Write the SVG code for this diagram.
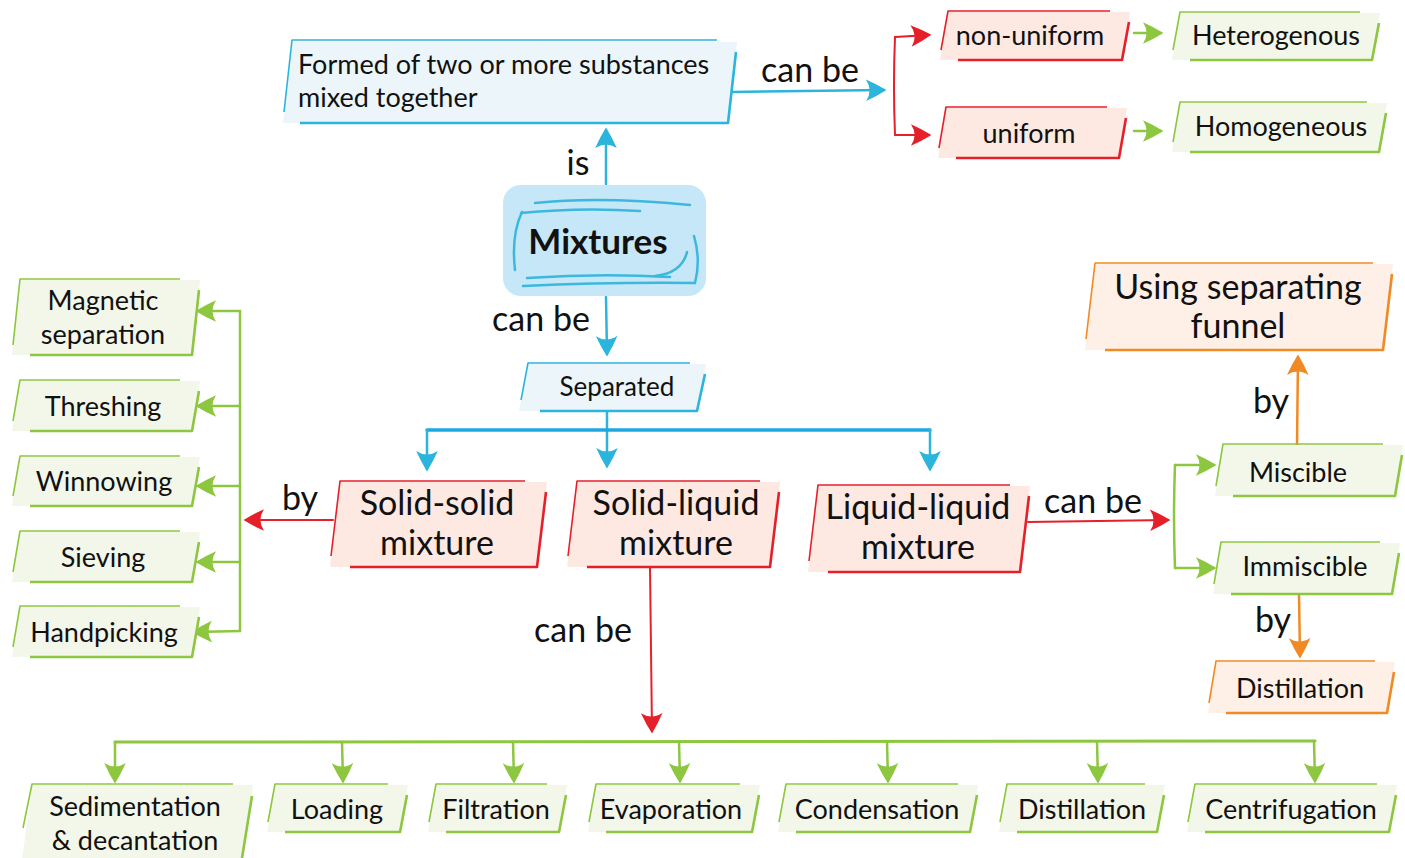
<svg xmlns="http://www.w3.org/2000/svg" width="1405" height="858" viewBox="0 0 1405 858">
<style>
text{font-family:Lato,"Open Sans","Liberation Sans",sans-serif;fill:#111;}
.t{font-size:27px;text-anchor:middle;}
.tb{font-size:34px;text-anchor:middle;}
.lbl{font-size:34px;text-anchor:middle;}
.bf{fill:#ECF6FA}.bs{stroke:#2BB5DD}
.rf{fill:#FDE9E1}.rs{stroke:#E5202A}
.gf{fill:#F3F7EA}.gs{stroke:#8DC63F}
.of{fill:#FEF0E6}.os{stroke:#F08A24}
.e1{fill:none;stroke-width:1.6;stroke-linejoin:round}
.e2{fill:none;stroke-width:2.6;stroke-linejoin:round}
.c{fill:none;stroke-linecap:round}
.cb{stroke:#2BB5DD;stroke-width:2.5}
.cr{stroke:#E5202A;stroke-width:2}
.cg{stroke:#8DC63F;stroke-width:2.5}
.co{stroke:#F08A24;stroke-width:2.5}
.deco{fill:none;stroke:#3CB8DE;stroke-width:2.5;stroke-linecap:round}
</style>
<defs>
<marker id="mb" viewBox="0 0 20 20" refX="17" refY="10" markerWidth="24" markerHeight="24" markerUnits="userSpaceOnUse" orient="auto"><path d="M2,1 Q11,5 19,10 Q11,15 2,19 Q8,10 2,1 Z" fill="#2BB5DD"/></marker>
<marker id="mr" viewBox="0 0 20 20" refX="17" refY="10" markerWidth="24" markerHeight="24" markerUnits="userSpaceOnUse" orient="auto"><path d="M2,1 Q11,5 19,10 Q11,15 2,19 Q8,10 2,1 Z" fill="#E5202A"/></marker>
<marker id="mg" viewBox="0 0 20 20" refX="17" refY="10" markerWidth="24" markerHeight="24" markerUnits="userSpaceOnUse" orient="auto"><path d="M2,1 Q11,5 19,10 Q11,15 2,19 Q8,10 2,1 Z" fill="#8DC63F"/></marker>
<marker id="mo" viewBox="0 0 20 20" refX="17" refY="10" markerWidth="24" markerHeight="24" markerUnits="userSpaceOnUse" orient="auto"><path d="M2,1 Q11,5 19,10 Q11,15 2,19 Q8,10 2,1 Z" fill="#F08A24"/></marker>
</defs>

<g id="connectors">
<path class="c cb" d="M606,184 L606,130" marker-end="url(#mb)"/>
<path class="c cb" d="M606,297 L607,354" marker-end="url(#mb)"/>
<path class="c cb" d="M732,92 L884,90" marker-end="url(#mb)"/>
<path class="c cb" d="M607,411 L607,466" marker-end="url(#mb)"/>
<path class="c" d="M427,430 L930,430" stroke="#1EA8E0" stroke-width="3.5"/>
<path class="c cb" d="M427,430 L427,469" marker-end="url(#mb)"/>
<path class="c cb" d="M930,430 L930,469" marker-end="url(#mb)"/>
<path class="c cr" d="M895,37 Q893,85 895,135" stroke-width="3"/>
<path class="c cr" d="M895,37 L929,35" marker-end="url(#mr)"/>
<path class="c cr" d="M895,135 L929,135" marker-end="url(#mr)"/>
<path class="c cg" d="M1134,33 L1161,33" marker-end="url(#mg)"/>
<path class="c cg" d="M1134,131 L1161,131" marker-end="url(#mg)"/>
<path class="c cr" d="M333,520 L246,520" marker-end="url(#mr)"/>
<path class="c cg" d="M240,311 L240,631"/>
<path class="c cg" d="M240,311 L198,311" marker-end="url(#mg)"/>
<path class="c cg" d="M240,406 L198,406" marker-end="url(#mg)"/>
<path class="c cg" d="M240,486 L198,486" marker-end="url(#mg)"/>
<path class="c cg" d="M240,562 L198,562" marker-end="url(#mg)"/>
<path class="c cg" d="M240,631 L194,632" marker-end="url(#mg)"/>
<path class="c cr" d="M650,567 L652,731" marker-end="url(#mr)"/>
<path class="c" d="M115,742 L1315,741" stroke="#8DC63F" stroke-width="3"/>
<path class="c cg" d="M115,742 L115,781" marker-end="url(#mg)"/>
<path class="c cg" d="M342,742 L343,781" marker-end="url(#mg)"/>
<path class="c cg" d="M513,742 L514,781" marker-end="url(#mg)"/>
<path class="c cg" d="M679,742 L680,781" marker-end="url(#mg)"/>
<path class="c cg" d="M887,742 L888,781" marker-end="url(#mg)"/>
<path class="c cg" d="M1097,742 L1098,781" marker-end="url(#mg)"/>
<path class="c cg" d="M1314,741 L1315,781" marker-end="url(#mg)"/>
<path class="c cr" d="M1028,522 L1168,520" marker-end="url(#mr)"/>
<path class="c cg" d="M1175,465 Q1173,516 1175,568" stroke-width="3"/>
<path class="c cg" d="M1175,465 L1214,465" marker-end="url(#mg)"/>
<path class="c cg" d="M1175,568 L1214,568" marker-end="url(#mg)"/>
<path class="c co" d="M1297,446 L1298,357" marker-end="url(#mo)"/>
<path class="c co" d="M1299,594 L1300,656" marker-end="url(#mo)"/>
<text class="lbl" x="578" y="175">is</text>
<text class="lbl" x="541" y="331">can be</text>
<text class="lbl" x="810" y="82">can be</text>
<text class="lbl" x="300" y="510">by</text>
<text class="lbl" x="583" y="642">can be</text>
<text class="lbl" x="1093" y="513">can be</text>
<text class="lbl" x="1271" y="413">by</text>
<text class="lbl" x="1273" y="632">by</text>
</g>

<g id="formed">
<polygon class="bf" points="292,42 737,42 728,123 283,123"/>
<path class="e1 bs" d="M717,40 L292,40 L284,112"/>
<path class="e2 bs" d="M300,123 L728,123 L736,52"/>
<text x="298" y="74" style="font-size:27px">Formed of two or more substances</text>
<text x="298" y="107" style="font-size:27px">mixed together</text>
</g>

<g id="mixtures">
<rect x="503" y="185" width="203" height="111" rx="18" fill="#C5E7F7"/>
<path class="deco" d="M535,203 Q600,196 690,205"/>
<path class="deco" d="M521,213 Q580,207 640,211"/>
<path class="deco" d="M515,270 Q511,235 522,212"/>
<path class="deco" d="M527,278 Q600,273 670,277"/>
<path class="deco" d="M523,286 Q610,282 695,283 Q701,260 694,236"/>
<path class="deco" d="M655,276 Q682,273 687,252"/>
<text x="598" y="254" style="font-size:35px;font-weight:bold;text-anchor:middle">Mixtures</text>
</g>

<g id="separated">
<polygon class="bf" points="528,364 706,364 697,411 519,411"/>
<path class="e1 bs" d="M690,363 L528,363 L521,400"/>
<path class="e2 bs" d="M540,411 L697,411 L705,374"/>
<text class="t" x="617" y="396" style="font-size:26px">Separated</text>
</g>

<g id="solid-solid">
<polygon class="rf" points="340,482 547,482 537,567 330,567"/>
<path class="e1 rs" d="M525,481 L340,481 L331,556"/>
<path class="e2 rs" d="M350,567 L537,567 L546,492"/>
<text class="tb" x="437" y="515">Solid-solid</text>
<text class="tb" x="437" y="555">mixture</text>
</g>

<g id="solid-liquid">
<polygon class="rf" points="577,482 780,482 770,567 567,567"/>
<path class="e1 rs" d="M760,481 L577,481 L568,556"/>
<path class="e2 rs" d="M587,567 L770,567 L779,492"/>
<text class="tb" x="676" y="515">Solid-liquid</text>
<text class="tb" x="676" y="555">mixture</text>
</g>

<g id="liquid-liquid">
<polygon class="rf" points="818,486 1030,486 1020,572 808,572"/>
<path class="e1 rs" d="M1010,485 L818,485 L809,561"/>
<path class="e2 rs" d="M828,572 L1020,572 L1029,496"/>
<text class="tb" x="918" y="519">Liquid-liquid</text>
<text class="tb" x="918" y="559">mixture</text>
</g>

<g id="non-uniform">
<polygon class="rf" points="948,12 1130,12 1122,60 940,60"/>
<path class="e1 rs" d="M1110,11 L948,11 L941,50"/>
<path class="e2 rs" d="M958,60 L1122,60 L1129,22"/>
<text class="t" x="1030" y="45">non-uniform</text>
</g>

<g id="uniform">
<polygon class="rf" points="946,108 1127,108 1119,158 938,158"/>
<path class="e1 rs" d="M1107,107 L946,107 L939,148"/>
<path class="e2 rs" d="M956,158 L1119,158 L1126,118"/>
<text class="t" x="1029" y="143">uniform</text>
</g>

<g id="heterogenous">
<polygon class="gf" points="1180,13 1380,13 1372,60 1172,60"/>
<path class="e1 gs" d="M1360,12 L1180,12 L1173,50"/>
<path class="e2 gs" d="M1190,60 L1372,60 L1379,23"/>
<text class="t" x="1276" y="45">Heterogenous</text>
</g>

<g id="homogeneous">
<polygon class="gf" points="1180,103 1387,103 1379,152 1172,152"/>
<path class="e1 gs" d="M1367,102 L1180,102 L1173,142"/>
<path class="e2 gs" d="M1190,152 L1379,152 L1386,113"/>
<text class="t" x="1281" y="136">Homogeneous</text>
</g>

<g id="funnel">
<polygon class="of" points="1095,264 1393,264 1383,350 1085,350"/>
<path class="e1 os" d="M1373,263 L1095,263 L1086,339"/>
<path class="e2 os" d="M1105,350 L1383,350 L1392,274"/>
<text class="tb" x="1238" y="299">Using separating</text>
<text class="tb" x="1238" y="338">funnel</text>
</g>

<g id="miscible">
<polygon class="gf" points="1223,445 1403,445 1395,496 1215,496"/>
<path class="e1 gs" d="M1383,444 L1223,444 L1216,486"/>
<path class="e2 gs" d="M1233,496 L1395,496 L1402,455"/>
<text class="t" x="1298" y="482">Miscible</text>
</g>

<g id="immiscible">
<polygon class="gf" points="1221,543 1400,543 1392,594 1213,594"/>
<path class="e1 gs" d="M1380,542 L1221,542 L1214,584"/>
<path class="e2 gs" d="M1231,594 L1392,594 L1399,553"/>
<text class="t" x="1305" y="576">Immiscible</text>
</g>

<g id="distillation-orange">
<polygon class="of" points="1216,662 1395,662 1387,713 1208,713"/>
<path class="e1 os" d="M1375,661 L1216,661 L1209,703"/>
<path class="e2 os" d="M1226,713 L1387,713 L1394,672"/>
<text class="t" x="1300" y="698">Distillation</text>
</g>

<g id="magnetic">
<polygon class="gf" points="20,280 200,280 192,355 12,355"/>
<path class="e1 gs" d="M180,279 L20,279 L13,345"/>
<path class="e2 gs" d="M30,355 L192,355 L199,290"/>
<text class="t" x="103" y="310">Magnetic</text>
<text class="t" x="103" y="344">separation</text>
</g>

<g id="threshing">
<polygon class="gf" points="20,381 200,381 192,431 12,431"/>
<path class="e1 gs" d="M180,380 L20,380 L13,421"/>
<path class="e2 gs" d="M30,431 L192,431 L199,391"/>
<text class="t" x="103" y="416">Threshing</text>
</g>

<g id="winnowing">
<polygon class="gf" points="20,457 200,457 192,506 12,506"/>
<path class="e1 gs" d="M180,456 L20,456 L13,496"/>
<path class="e2 gs" d="M30,506 L192,506 L199,467"/>
<text class="t" x="104" y="491">Winnowing</text>
</g>

<g id="sieving">
<polygon class="gf" points="20,532 200,532 192,582 12,582"/>
<path class="e1 gs" d="M180,531 L20,531 L13,572"/>
<path class="e2 gs" d="M30,582 L192,582 L199,542"/>
<text class="t" x="103" y="567">Sieving</text>
</g>

<g id="handpicking">
<polygon class="gf" points="20,607 200,607 192,657 12,657"/>
<path class="e1 gs" d="M180,606 L20,606 L13,647"/>
<path class="e2 gs" d="M30,657 L192,657 L199,617"/>
<text class="t" x="104" y="642">Handpicking</text>
</g>

<g id="sedimentation">
<polygon class="gf" points="32,785 253,785 243,860 22,860"/>
<path class="e1 gs" d="M233,784 L32,784 L23,828"/>
<path class="e2 gs" d="M242,858 L252,796"/>
<text class="t" x="135" y="816">Sedimentation</text>
<text class="t" x="135" y="850">&amp; decantation</text>
</g>

<g id="loading">
<polygon class="gf" points="275,785 408,785 400,832 267,832"/>
<path class="e1 gs" d="M388,784 L275,784 L268,822"/>
<path class="e2 gs" d="M285,832 L400,832 L407,795"/>
<text class="t" x="337" y="819">Loading</text>
</g>

<g id="filtration">
<polygon class="gf" points="436,785 567,785 559,832 428,832"/>
<path class="e1 gs" d="M547,784 L436,784 L429,822"/>
<path class="e2 gs" d="M446,832 L559,832 L566,795"/>
<text class="t" x="496" y="819">Filtration</text>
</g>

<g id="evaporation">
<polygon class="gf" points="596,785 760,785 752,832 588,832"/>
<path class="e1 gs" d="M740,784 L596,784 L589,822"/>
<path class="e2 gs" d="M606,832 L752,832 L759,795"/>
<text class="t" x="671" y="819">Evaporation</text>
</g>

<g id="condensation">
<polygon class="gf" points="786,785 978,785 970,832 778,832"/>
<path class="e1 gs" d="M958,784 L786,784 L779,822"/>
<path class="e2 gs" d="M796,832 L970,832 L977,795"/>
<text class="t" x="877" y="819">Condensation</text>
</g>

<g id="distillation">
<polygon class="gf" points="1007,785 1165,785 1157,832 999,832"/>
<path class="e1 gs" d="M1145,784 L1007,784 L1000,822"/>
<path class="e2 gs" d="M1017,832 L1157,832 L1164,795"/>
<text class="t" x="1082" y="819">Distillation</text>
</g>

<g id="centrifugation">
<polygon class="gf" points="1195,785 1397,785 1389,832 1187,832"/>
<path class="e1 gs" d="M1377,784 L1195,784 L1188,822"/>
<path class="e2 gs" d="M1205,832 L1389,832 L1396,795"/>
<text class="t" x="1291" y="819">Centrifugation</text>
</g>
</svg>
